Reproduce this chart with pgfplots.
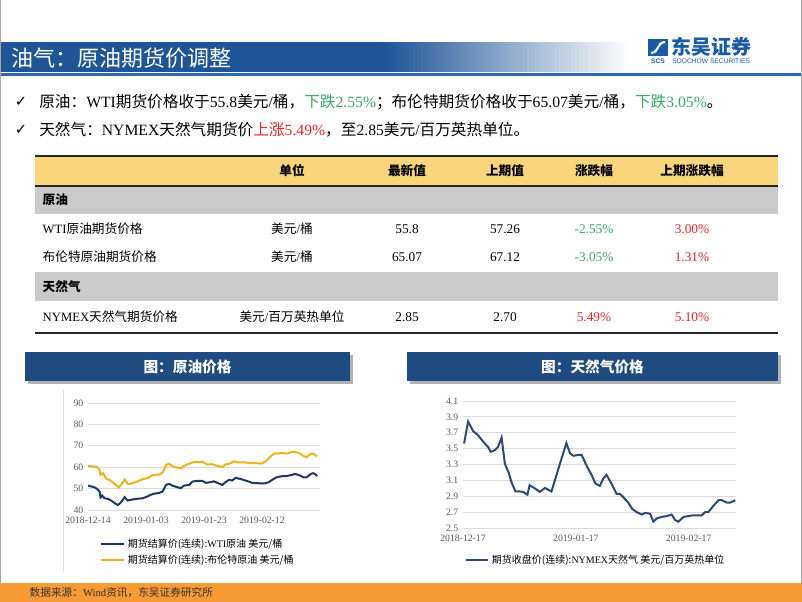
\documentclass[border=0pt]{standalone}
\usepackage{pgfplots}
\pgfplotsset{compat=1.18}
\usepackage{fontspec}
\setmainfont{Liberation Serif}
\newfontfamily\cjk{Noto Sans CJK SC}
\newfontfamily\dejavu{DejaVu Sans}
\newfontfamily\arial{Liberation Sans}

\definecolor{hdrblue}{HTML}{1F5597}
\definecolor{lineblue}{HTML}{2A68B0}
\definecolor{boxnavy}{HTML}{1F4B80}
\definecolor{wti}{HTML}{1F3864}
\definecolor{brent}{HTML}{EBB51A}
\definecolor{gas}{HTML}{2C4A72}
\definecolor{tblyellow}{HTML}{F9D67C}
\definecolor{tblgray}{HTML}{CACACA}
\definecolor{upred}{HTML}{E5262B}
\definecolor{dngreen}{HTML}{3BA864}
\definecolor{footorange}{HTML}{F89A35}
\definecolor{logoblue}{HTML}{1A5BA6}
\definecolor{ticktext}{HTML}{595959}

\pgfplotsset{
  slidechart/.style={
    scale only axis, anchor=south west,
    axis line style={draw=none},
    major tick length=0pt,
    ymajorgrids, grid style={draw=gray!30, line width=0.6pt},
    ticklabel style={font=\fontsize{7.3}{8}\selectfont, text=ticktext},
    xticklabel style={yshift=-2pt},
    /pgf/number format/assume math mode=true,
    legend style={draw=none, fill=none, font=\fontsize{7.5}{9}\selectfont,
      row sep=0pt, legend cell align=left},
    legend image post style={line width=1.5pt},
  }
}

\begin{document}
\begin{tikzpicture}
\begin{scope}[x=0.75pt, y=-0.75pt]
\path[use as bounding box, fill=white] (0,0) rectangle (802,602);
% header bar, dark on the left and fading to white
\fill[hdrblue] (0,42) rectangle (386,72);
\foreach \i in {0,...,59} {
  \pgfmathsetmacro{\pct}{100-\i*100/60}
  \fill[hdrblue!\pct!white] ({385+\i*4.05},42) rectangle ({385+(\i+1)*4.05+0.3},72);
}
\fill[lineblue] (0,73) rectangle (802,76.5);
\node[anchor=west, text=white, font=\cjk\fontsize{16.5}{18}\selectfont] at (7,58) {油气：原油期货价调整};
% logo
\fill[logoblue] (648,39) rectangle (668,56);
\draw[white, line width=1.6pt] (651,53) .. controls (660,52) and (656,43) .. (665,42);
\node[font=\arial\bfseries\fontsize{5}{5}\selectfont, text=logoblue] at (658,61) {SCS};
\node[anchor=west, font=\cjk\bfseries\fontsize{15}{16}\selectfont, text=logoblue, inner sep=0pt] at (671,47) {东吴证券};
\node[anchor=west, font=\arial\fontsize{5}{5}\selectfont, text=logoblue, inner sep=0pt] at (672,61) {SOOCHOW SECURITIES};
% slide edges
\draw[gray!70, line width=1pt] (0.7,0) -- (0.7,602);
\draw[gray!70, line width=1pt] (801.3,0) -- (801.3,602);
% bullets
\node[font=\dejavu\fontsize{11}{12}\selectfont] at (21,102) {✓};
\node[font=\dejavu\fontsize{11}{12}\selectfont] at (21,130) {✓};
\node[anchor=west, inner sep=0pt, font=\fontsize{11.75}{14}\selectfont] at (39,102)
  {{\cjk 原油：}WTI{\cjk 期货价格收于}55.8{\cjk 美元}/{\cjk 桶，}\textcolor{dngreen}{{\cjk 下跌}2.55\%}{\cjk ；布伦特期货价格收于}65.07{\cjk 美元}/{\cjk 桶，}\textcolor{dngreen}{{\cjk 下跌}3.05\%}{\cjk 。}};
\node[anchor=west, inner sep=0pt, font=\fontsize{11.75}{14}\selectfont] at (39,130)
  {{\cjk 天然气：}NYMEX{\cjk 天然气期货价}\textcolor{upred}{{\cjk 上涨}5.49\%}{\cjk ，至}2.85{\cjk 美元}/{\cjk 百万英热单位。}};
% table
\fill[tblyellow] (35,157) rectangle (778,185);
\fill[tblgray] (35,187) rectangle (778,214);
\fill[tblgray] (35,272) rectangle (778,301);
\draw[black!85, line width=1.2pt] (35,156) -- (778,156);
\draw[black!85, line width=1.2pt] (35,186) -- (778,186);
\draw[black!85, line width=1.2pt] (35,333) -- (778,333);
\begin{scope}[every node/.style={font=\fontsize{10}{12}\selectfont}]
\node[font=\cjk\bfseries\fontsize{9.5}{11}\selectfont] at (292,171) {单位};
\node[font=\cjk\bfseries\fontsize{9.5}{11}\selectfont] at (407,171) {最新值};
\node[font=\cjk\bfseries\fontsize{9.5}{11}\selectfont] at (505,171) {上期值};
\node[font=\cjk\bfseries\fontsize{9.5}{11}\selectfont] at (594,171) {涨跌幅};
\node[font=\cjk\bfseries\fontsize{9.5}{11}\selectfont] at (692,171) {上期涨跌幅};
\node[anchor=west, font=\cjk\bfseries\fontsize{9.5}{11}\selectfont] at (38,200) {原油};
\node[anchor=west, font=\cjk\bfseries\fontsize{9.5}{11}\selectfont] at (38,287) {天然气};
\node[anchor=west, font=\fontsize{9.5}{11}\selectfont] at (38,229) {WTI{\cjk 原油期货价格}};
\node[anchor=west, font=\fontsize{9.5}{11}\selectfont] at (38,257) {\cjk 布伦特原油期货价格};
\node[anchor=west, font=\fontsize{9.5}{11}\selectfont] at (38,317) {NYMEX{\cjk 天然气期货价格}};
\node[font=\fontsize{9.5}{11}\selectfont] at (292,229) {{\cjk 美元}/{\cjk 桶}};
\node[font=\fontsize{9.5}{11}\selectfont] at (292,257) {{\cjk 美元}/{\cjk 桶}};
\node[font=\fontsize{9.5}{11}\selectfont] at (292,317) {{\cjk 美元}/{\cjk 百万英热单位}};
\node at (407,229) {55.8};
\node at (505,229) {57.26};
\node[text=dngreen] at (594,229) {-2.55\%};
\node[text=upred] at (692,229) {3.00\%};
\node at (407,257) {65.07};
\node at (505,257) {67.12};
\node[text=dngreen] at (594,257) {-3.05\%};
\node[text=upred] at (692,257) {1.31\%};
\node at (407,317) {2.85};
\node at (505,317) {2.70};
\node[text=upred] at (594,317) {5.49\%};
\node[text=upred] at (692,317) {5.10\%};
\end{scope}
% chart title boxes
\fill[black!30] (28,355) rectangle (353,384);
\fill[boxnavy] (25,352) rectangle (350,381);
\node[text=white, font=\cjk\bfseries\fontsize{11}{12}\selectfont] at (187.5,366.5) {图：原油价格};
\fill[black!30] (410,355) rectangle (781,384);
\fill[boxnavy] (407,352) rectangle (778,381);
\node[text=white, font=\cjk\bfseries\fontsize{11}{12}\selectfont] at (592.5,366.5) {图：天然气价格};
\draw[gray!25, line width=0.6pt] (63,390) -- (63,572);
% footer
\fill[footorange] (0,583) rectangle (802,602);
\node[anchor=west, text=black!80, font=\fontsize{8}{9}\selectfont] at (25,592.5) {{\cjk 数据来源：}Wind{\cjk 资讯，东吴证券研究所}};
\end{scope}

% crude oil chart
\begin{axis}[slidechart,
  at={(66pt,-382.5pt)},
  width=174pt, height=80.25pt,
  xmin=0, xmax=80, ymin=40, ymax=90,
  ytick={40,50,60,70,80,90},
  xtick={0,20,40,60},
  xticklabels={2018-12-14,2019-01-03,2019-01-23,2019-02-12},
  legend style={at={(0.035,-0.22)}, anchor=north west},
]
\addplot[wti, line width=1.5pt] coordinates {
(0,51.4) (2.3,50.6) (3.4,49.5) (4,48.6) (4.3,45.9) (4.9,46.7) (5.7,45.5) (6.9,45.2)
(8,44.4) (9.1,43.3) (10.3,42.3) (11.4,43.6) (12.6,46) (13.7,44.4) (14.9,44.8) (16.6,45.2)
(18.9,45.5) (20.6,46.4) (22.3,47.5) (24.6,48) (25.7,48.6) (26.9,51.7) (28,52.2) (29.1,51.4)
(30.9,50.6) (32,50.2) (33.1,51.4) (34.9,51.7) (36,53.3) (37.7,53.6) (39.4,53.6) (40.6,52.7)
(42.3,53) (43.4,53.4) (44.6,52.7) (46.3,51.7) (47.4,53) (48.6,54.1) (49.7,53.8) (50.9,55)
(52.6,54.5) (54.3,53.8) (55.4,53.3) (56.6,52.7) (58.9,52.5) (61.1,52.5) (62.3,53) (64,54.5)
(65.1,55.3) (66.9,55.8) (68.6,55.9) (70.3,56.4) (71.4,56.9) (73.1,56.1) (74.3,55.3) (75.4,55.3)
(76.9,56.9) (77.7,57.2) (78.5,56.6) (79,55.8)
};
\addlegendentry{{\cjk 期货结算价(连续):}WTI{\cjk 原油 美元/桶}}
\addplot[brent, line width=1.5pt] coordinates {
(0,60.6) (2.3,60.3) (3.4,59.8) (4,58.7) (4.3,56.4) (5.2,57.2) (6.3,54.5) (7.4,54.1)
(8.6,52.9) (9.7,51.6) (10.6,50.6) (11.7,52.3) (12.6,54.2) (13.7,52.2) (14.9,52.3) (16.6,53.1)
(18.9,54.4) (20.6,55) (22.3,56.3) (24.6,56.6) (25.7,57.5) (26.9,61) (28,61.6) (29.1,60.5)
(30.9,59.8) (32,59.4) (33.1,60.6) (34.3,61.3) (36,62.2) (37.7,62.5) (39.4,62.5) (41.1,61.3)
(42.9,61.4) (44.6,60.6) (46.3,60) (47.4,61.3) (48.6,61.6) (50.3,62.7) (52,62.3) (54.3,62.2)
(56,61.9) (57.7,61.9) (60,61.7) (61.7,63.3) (63.4,65.6) (64.6,66.4) (66.9,66.6) (68.6,66.4)
(70.3,67.2) (71.4,67.2) (73.1,66.4) (74.3,65.3) (75.4,64.7) (76.9,66.4) (77.7,66.4) (79,65.1)
};
\addlegendentry{{\cjk 期货结算价(连续):布伦特原油 美元/桶}}
\end{axis}

% natural gas chart
\begin{axis}[slidechart,
  at={(347.25pt,-396pt)},
  width=204.75pt, height=95.25pt,
  xmin=0, xmax=75, ymin=2.5, ymax=4.1,
  ytick={2.5,2.7,2.9,3.1,3.3,3.5,3.7,3.9,4.1},
  yticklabel style={/pgf/number format/.cd, fixed, fixed zerofill, precision=1},
  xtick={0,31,62},
  xticklabels={2018-12-17,2019-01-17,2019-02-17},
  legend style={at={(-0.01,-0.165)}, anchor=north west},
]
\addplot[gas, line width=1.5pt] coordinates {
(0.3,3.565) (1.4,3.84) (2.8,3.72) (4.1,3.67) (5.5,3.59) (6.9,3.52) (7.6,3.46) (8.7,3.48)
(9.6,3.52) (10.6,3.64) (11.5,3.31) (12.6,3.19) (13.3,3.08) (14.4,2.96) (15.6,2.96) (16.5,2.955)
(17.7,2.92) (18.3,3.04) (19.7,3.0) (21.1,2.955) (22.5,3.005) (24.3,2.96) (25.7,3.17) (27.1,3.38)
(28.4,3.57) (29.4,3.44) (30.3,3.41) (31.7,3.42) (32.6,3.42) (33.9,3.29) (35.3,3.17) (36.4,3.06)
(37.6,3.03) (38.5,3.12) (39.4,3.17) (40.8,3.06) (42.2,2.93) (43.1,2.93) (44,2.89) (45.4,2.82)
(46.5,2.74) (47.7,2.70) (49.1,2.67) (50,2.69) (51.4,2.68) (52.3,2.58) (53.2,2.62) (54.6,2.64)
(56,2.65) (57.3,2.67) (58.3,2.60) (59.2,2.58) (60.6,2.64) (61.9,2.65) (63.3,2.66) (64.7,2.66)
(65.6,2.66) (66.5,2.70) (67.4,2.70) (68.8,2.78) (70.2,2.85) (71.1,2.85) (72.5,2.82) (73.4,2.82)
(74.8,2.85)
};
\addlegendentry{{\cjk 期货收盘价(连续):}NYMEX{\cjk 天然气 美元/百万英热单位}}
\end{axis}
\end{tikzpicture}
\end{document}
